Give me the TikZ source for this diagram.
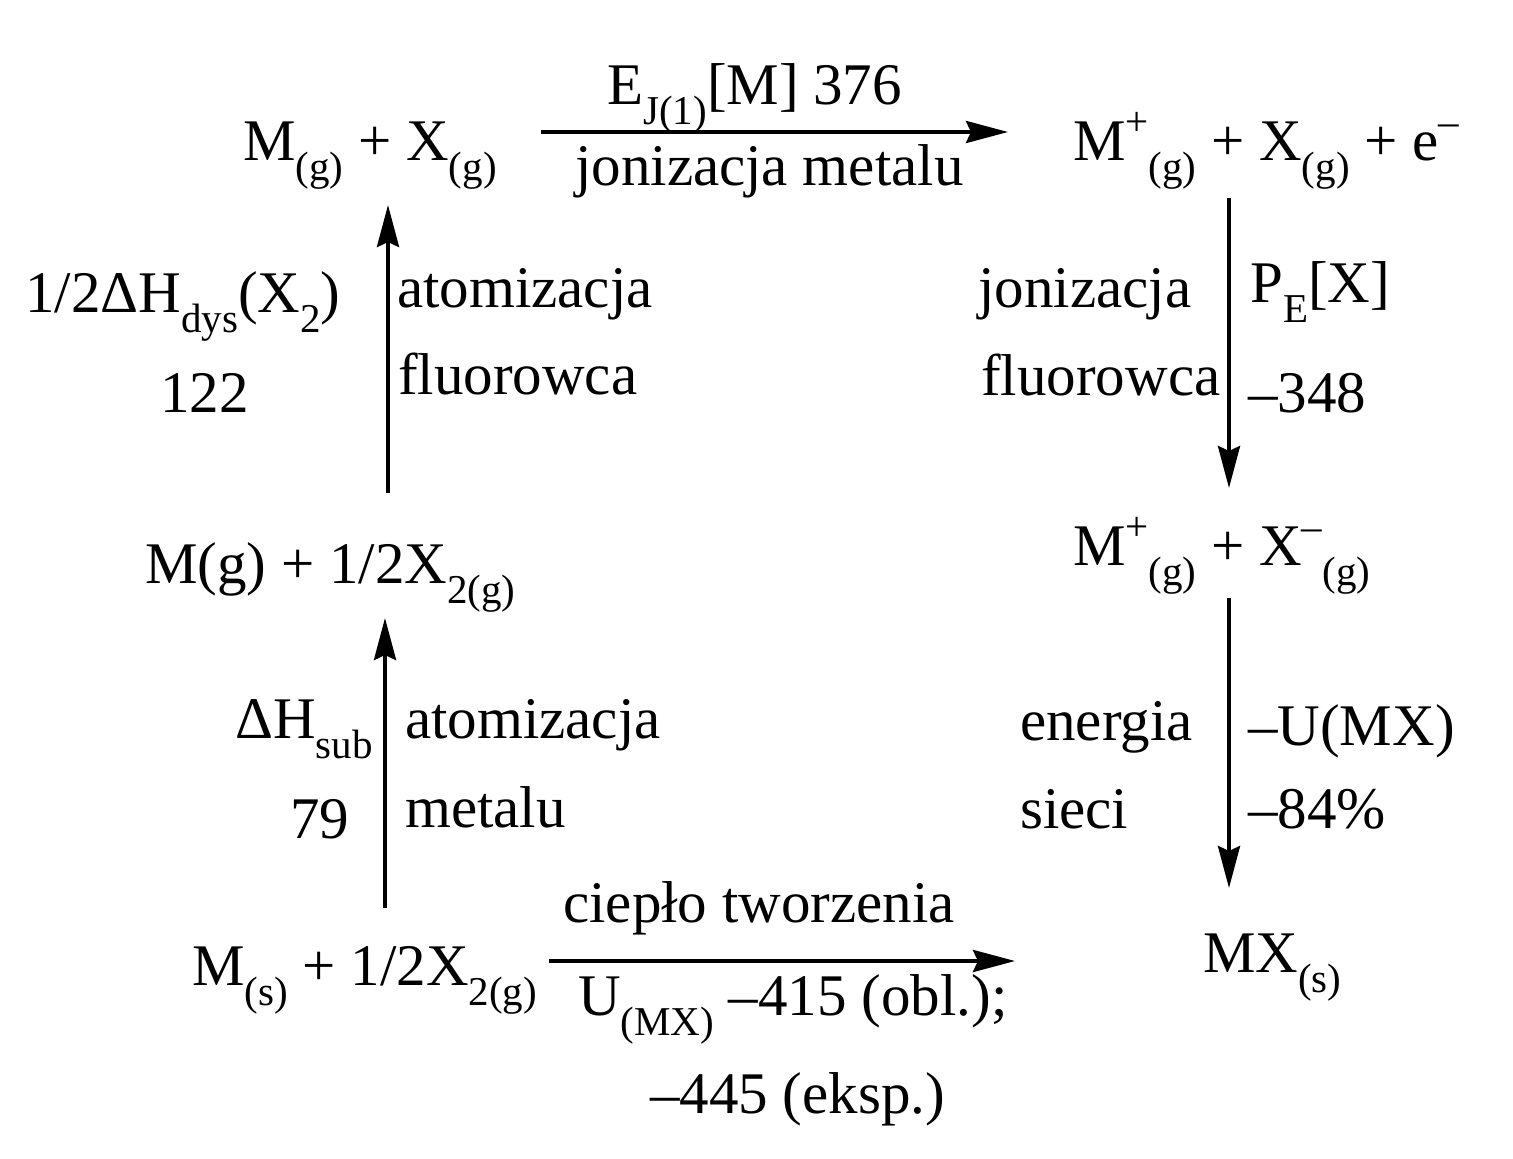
\documentclass[tikz,border=0pt]{standalone}
\usepackage{fontspec}
\setmainfont{Liberation Serif}
\usetikzlibrary{arrows.meta,positioning}
\newcommand{\lo}[1]{\raisebox{-0.34em}{\fontsize{41}{41}\selectfont #1}}
\newcommand{\hi}[1]{\raisebox{0.42em}{\fontsize{41}{41}\selectfont #1}}

\begin{document}
\begin{tikzpicture}[x=1pt,y=-1pt]
    % born-haber cycle
    \tikzset{species/.style = {anchor=base west,inner sep=0pt,font=\fontsize{59}{70}\selectfont}}
    \tikzset{label/.style = {species}}
    \tikzset{pre/.style = {-{Stealth[length=42pt,width=22pt,inset=5pt]},line width=4pt}}
    \useasboundingbox (0,0) rectangle (1513,1159);

    % species
    \node[species] (gas)   at (243,160)  {M\lo{(g)} + X\lo{(g)}};
    \node[species] (ion)   at (1073,160) {M\hi{+}\lo{(g)} + X\lo{(g)} + e\hi{–}};
    \node[species] (ions)  at (1073,565) {M\hi{+}\lo{(g)} + X\hi{–}\lo{(g)}};
    \node[species] (mx)    at (1203,972) {MX\lo{(s)}};
    \node[species] (solid) at (192,985)  {M\lo{(s)} + 1/2X\lo{2(g)}};
    \node[species] (metal) at (145,583)  {M(g) + 1/2X\lo{2(g)}};

    % arrow ends
    \coordinate (s1) at (385,908);  \coordinate (e1) at (385,618);
    \coordinate (s2) at (388,493);  \coordinate (e2) at (388,205);
    \coordinate (s3) at (541,132);  \coordinate (e3) at (1008,132);
    \coordinate (s4) at (1229,198); \coordinate (e4) at (1229,488);
    \coordinate (s5) at (1229,598); \coordinate (e5) at (1229,888);
    \coordinate (s6) at (549,961);  \coordinate (e6) at (1015,961);
    \draw[pre] (s1) -- (e1);
    \draw[pre] (s2) -- (e2);
    \draw[pre] (s3) -- (e3);
    \draw[pre] (s4) -- (e4);
    \draw[pre] (s5) -- (e5);
    \draw[pre] (s6) -- (e6);

    % atomizacja metalu
    \node[label] (sub)  at (235,738) {\char"0394H\lo{sub}};
    \node[label] (sub2) at (290,838) {79};
    \node[label] (am)   at (405,738) {atomizacja};
    \node[label] (am2)  at (405,827) {metalu};

    % atomizacja fluorowca
    \node[label] (dys)  at (25,312)  {1/2\char"0394H\lo{dys}(X\lo{2})};
    \node[label] (dys2) at (160,412) {122};
    \node[label] (af)   at (397,307) {atomizacja};
    \node[label] (af2)  at (398,394) {fluorowca};

    % jonizacja metalu
    \node[label] (ej)   at (607,104) {E\lo{J(1)}[M] 376};
    \node[label] (jm)   at (575,185) {jonizacja metalu};

    % jonizacja fluorowca
    \node[label] (jf)   at (978,307) {jonizacja};
    \node[label] (jf2)  at (981,395) {fluorowca};
    \node[label] (pe)   at (1250,302) {P\lo{E}[X]};
    \node[label] (pe2)  at (1248,412) {–348};

    % energia sieci
    \node[label] (es)   at (1020,740) {energia};
    \node[label] (es2)  at (1020,828) {sieci};
    \node[label] (u)    at (1248,745) {–U(MX)};
    \node[label] (u2)   at (1248,828) {–84\%};

    % cieplo tworzenia
    \node[label] (ct)   at (563,922)  {ciepło tworzenia};
    \node[label] (ct2)  at (578,1015) {U\lo{(MX)} –415 (obl.);};
    \node[label] (ct3)  at (650,1113) {–445 (eksp.)};
\end{tikzpicture}
\end{document}
